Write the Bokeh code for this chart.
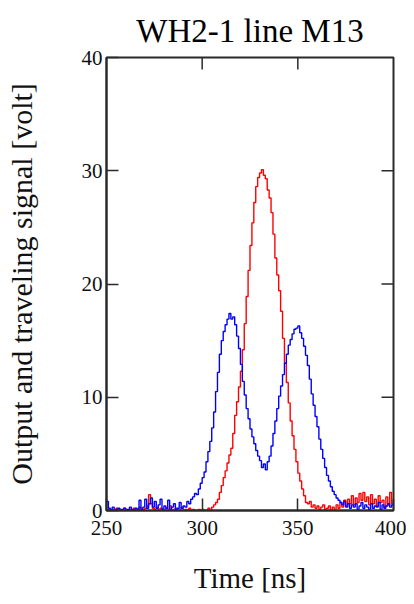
import math
from bokeh.plotting import figure
from bokeh.models import FixedTicker, Range1d
from bokeh.embed import file_html
from bokeh.resources import INLINE

time_ns = list(range(250, 401))

traveling = [
    0.8, 0.2, 0.1, 0.3, 0.0, 0.1, 0.2, 0.0, 0.1, 0.2,
    0.0, 0.1, 0.3, 0.1, 0.0, 0.2, 0.1, 0.9, 0.1, 0.3,
    1.0, 0.2, 0.6, 1.1, 0.3, 0.8, 0.2, 0.5, 1.0, 0.1,
    0.4, 0.2, 0.9, 0.1, 0.3, 0.6, 0.1, 0.2, 0.7, 0.2,
    0.4, 0.3, 0.8, 0.6, 1.0, 1.2, 1.5, 1.4, 1.9, 2.4,
    2.9, 3.4, 4.3, 5.2, 6.1, 7.3, 8.7, 10.5, 12.2, 13.8,
    15.0, 15.8, 16.4, 16.9, 17.4, 16.9, 17.1, 16.4, 15.4, 14.3,
    12.9, 11.4, 10.2, 9.0, 8.1, 7.2, 6.5, 5.9, 5.3, 4.8,
    4.4, 3.8, 4.1, 3.6, 4.3, 4.8, 5.7, 6.8, 7.9, 9.0,
    10.1, 11.0, 12.0, 13.0, 13.8, 14.6, 15.1, 15.6, 16.0, 16.1,
    16.3, 15.7, 15.2, 14.5, 13.7, 12.8, 11.6, 10.3, 9.3, 8.3,
    7.4, 6.3, 5.4, 4.6, 3.8, 3.1, 2.6, 2.1, 1.7, 1.4,
    1.1, 0.9, 0.7, 0.5, 0.8, 0.3, 0.6, 0.2, 0.5, 0.3,
    0.6, 0.1, 0.4, 0.7, 0.2, 0.5, 0.3, 0.1, 0.6, 0.2,
    0.4, 0.3, 0.7, 0.1, 0.5, 0.2, 0.4, 0.6, 0.3, 0.5, 0.9,
]

output = [
    0.0, 0.1, 0.0, 0.0, 0.1, 0.2, 0.0, 0.1, 0.0, 0.2,
    0.1, 0.0, 0.1, 0.0, 0.2, 0.0, 0.1, 0.3, 0.0, 0.1,
    0.2, 0.4, 1.4, 0.6, 0.2, 0.1, 0.3, 0.0, 0.2, 0.1,
    0.0, 0.2, 0.1, 0.4, 0.0, 0.1, 0.2, 0.0, 0.1, 0.3,
    0.0, 0.1, 0.0, 0.2, 0.0, 0.1, 0.0, 0.0, 0.1, 0.0,
    0.1, 0.0, 0.0, 0.2, 0.0, 0.3, 0.5, 0.7, 1.0, 1.6,
    2.2, 2.9, 3.5, 4.2, 4.9, 5.5, 6.8, 8.4, 9.6, 10.9,
    12.3, 14.2, 16.5, 18.9, 21.2, 23.4, 25.4, 27.2, 28.6, 29.4,
    29.8, 30.1, 29.6, 29.3, 28.3, 27.6, 26.3, 24.4, 22.3, 20.8,
    19.4, 17.6, 15.2, 13.0, 11.3, 9.5, 7.9, 6.6, 5.4, 4.3,
    3.3, 2.6, 1.9, 1.3, 0.7, 0.6, 0.8, 0.3, 0.5, 0.2,
    0.4, 0.1, 0.3, 0.5, 0.1, 0.2, 0.4, 0.0, 0.3, 0.1,
    0.5, 0.2, 0.7, 0.3, 0.9, 0.4, 1.0, 0.6, 1.3, 0.5,
    1.1, 0.7, 1.5, 0.9, 1.6, 0.8, 1.2, 0.5, 1.4, 0.6,
    1.0, 0.4, 1.3, 0.7, 0.9, 0.3, 1.2, 0.5, 1.6, 0.6, 1.0,
]

x_ticks = [250, 300, 350, 400]
y_ticks = [0, 10, 20, 30, 40]

FONT = "Liberation Serif"
AXC = "#2a2a2a"

p = figure(width=406, height=600, output_backend="svg", toolbar_location=None,
           x_range=Range1d(x_ticks[0], x_ticks[-1]), y_range=Range1d(y_ticks[0], y_ticks[-1]),
           title="WH2-1 line M13",
           min_border_left=106, min_border_right=13, min_border_top=57, min_border_bottom=90)

p.title.text_font = FONT
p.title.text_font_size = "33px"
p.title.text_font_style = "normal"
p.title.align = "center"
p.title.text_color = "#000000"
p.title.standoff = 17

p.grid.visible = False
p.outline_line_color = AXC
p.outline_line_width = 2
p.background_fill_color = "white"
p.border_fill_color = "white"

p.step(time_ns, output, mode="after", line_color="#ff0000", line_width=1.4)
p.step(time_ns, traveling, mode="after", line_color="#0000ff", line_width=1.4)

# inward ticks on top and right frame edges
p.ray(x=x_ticks[1:-1], y=[y_ticks[-1]] * (len(x_ticks) - 2), length=12, length_units="screen",
      angle=-math.pi / 2, line_color=AXC, line_width=1.5)
p.ray(x=[x_ticks[-1]] * (len(y_ticks) - 2), y=y_ticks[1:-1], length=12, length_units="screen",
      angle=math.pi, line_color=AXC, line_width=1.5)

for ax in (p.xaxis[0], p.yaxis[0]):
    ax.axis_line_color = AXC
    ax.axis_line_width = 2
    ax.major_tick_line_color = AXC
    ax.major_tick_line_width = 1.5
    ax.major_tick_in = 12
    ax.major_tick_out = 0
    ax.minor_tick_line_color = None
    ax.major_label_text_font = FONT
    ax.major_label_text_font_size = "21px"
    ax.major_label_text_color = "#111111"
    ax.axis_label_text_font = FONT
    ax.axis_label_text_font_style = "normal"
    ax.axis_label_text_color = "#111111"

p.xaxis.ticker = FixedTicker(ticks=x_ticks)
p.yaxis.ticker = FixedTicker(ticks=y_ticks)
p.xaxis.axis_label = "Time [ns]"
p.xaxis.axis_label_text_font_size = "29px"
p.xaxis.axis_label_standoff = 24
p.xaxis.major_label_standoff = 10
p.yaxis.axis_label = "Output and traveling signal [volt]"
p.yaxis.axis_label_text_font_size = "30px"
p.yaxis.axis_label_standoff = 41
p.yaxis.major_label_standoff = 4

open("out.html", "w").write(file_html(p, INLINE))
